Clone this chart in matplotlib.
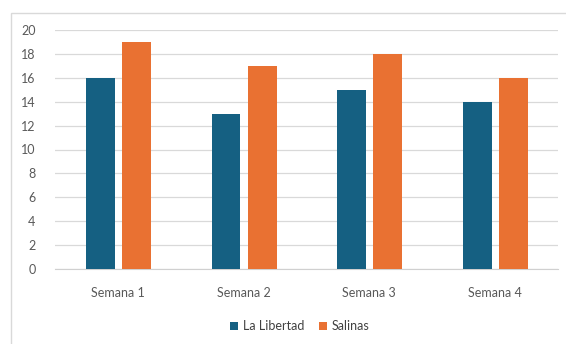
import numpy as np
import matplotlib.pyplot as plt
from matplotlib.patches import Rectangle

# datos
semanas = ["Semana 1", "Semana 2", "Semana 3", "Semana 4"]
la_libertad = [16, 13, 15, 14]
salinas = [19, 17, 18, 16]
series = ["La Libertad", "Salinas"]

AZUL = "#156082"
NARANJA = "#E97132"
GRIS_TXT = "#595959"

plt.rcParams['font.family'] = ['Lato', 'DejaVu Sans']

fig = plt.figure(figsize=(5.66, 3.44), dpi=100)
W, H = 566, 344
ax = fig.add_axes([55 / W, 1 - 269 / H, (558 - 55) / W, (269 - 30) / H])

# marco del grafico (solo se ve arriba e izquierda)
fig.patches.append(Rectangle((11 / W, -0.1), 1.2, 1 - 13 / H + 0.1,
                             transform=fig.transFigure, fill=False,
                             edgecolor="#d9d9d9", linewidth=1.0))

x = np.arange(len(semanas))
ancho = 0.23
ax.bar(x - 0.14, la_libertad, ancho, color=AZUL, label=series[0], zorder=3)
ax.bar(x + 0.147, salinas, ancho, color=NARANJA, label=series[1], zorder=3)

ax.set_xlim(-0.5, 3.5)
ax.set_ylim(0, 20)
ax.set_yticks(range(0, 21, 2))
ax.set_xticks(x)
ax.set_xticklabels(semanas)
ax.grid(axis="y", color="#d9d9d9", linewidth=0.9, zorder=0)
for lado in ["top", "right", "left"]:
    ax.spines[lado].set_visible(False)
ax.spines["bottom"].set_color("#d0d0d0")
ax.tick_params(axis="both", length=0, colors=GRIS_TXT, labelsize=9)
ax.tick_params(axis="y", pad=14)
ax.tick_params(axis="x", pad=13)

fig.legend(loc="center", bbox_to_anchor=(300 / W, 1 - 326 / H), ncol=2,
           frameon=False, fontsize=9, handlelength=0.6, handleheight=0.6,
           columnspacing=1.2, handletextpad=0.4, labelcolor="#404040")

fig.savefig("out.png", dpi=100)
